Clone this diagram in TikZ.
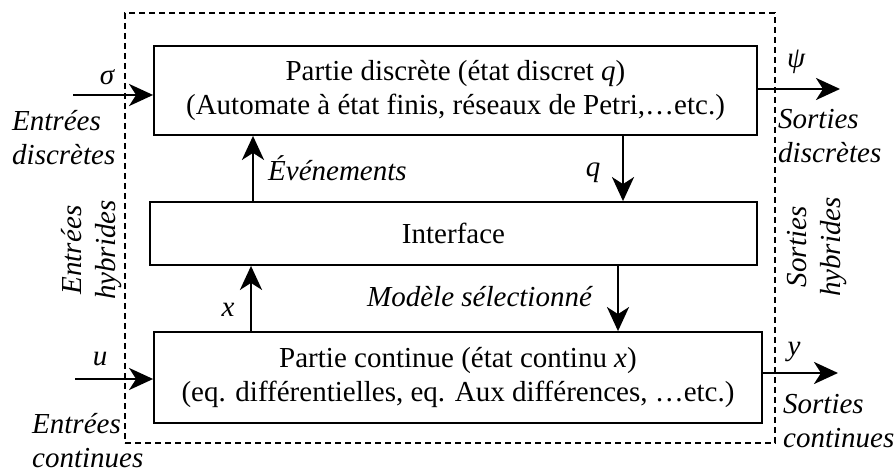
\documentclass[tikz,border=0pt]{standalone}
\usepackage{fontspec}
\setmainfont{Liberation Serif}
\usetikzlibrary{arrows.meta}
\begin{document}
\begin{tikzpicture}[x=1pt,y=-1pt,
  every node/.style={font=\fontsize{29}{34.5}\selectfont},
  box/.style={draw,line width=1.8pt,inner sep=0pt,align=center},
  arr/.style={line width=2.8pt,-{Stealth[length=24pt,width=22pt,inset=7pt]}},
  lbl/.style={inner sep=0pt,font=\fontsize{29}{34}\selectfont\itshape},
  frame/.style={draw,line width=1.3pt,dash pattern=on 6pt off 4pt,inner sep=0pt}
]
\useasboundingbox (0,0) rectangle (896,470);

% dashed frame
\node[frame, minimum width=650pt, minimum height=430pt] (fr) at (450,228) {};

% blocks
\node[box, minimum width=603pt, minimum height=89pt] (top) at (455.5,90.5)
  {Partie discrète (état discret \textit{q})\\(Automate à état finis, réseaux de Petri,…etc.)};
\node[box, minimum width=607pt, minimum height=63pt] (iface) at (453.5,233.5) {Interface};
\node[box, minimum width=608pt, minimum height=91pt] (bot) at (458,377.5)
  {Partie continue (état continu \textit{x})\\(eq. différentielles, eq. Aux différences, …etc.)};

% vertical connectors
\coordinate (cEv) at (253,0);
\coordinate (cQ) at (623,0);
\coordinate (cX) at (251,0);
\coordinate (cM) at (618,0);
\draw[arr] (iface.north -| cEv) -- (top.south -| cEv);
\draw[arr] (top.south -| cQ) -- (iface.north -| cQ);
\draw[arr] (bot.north -| cX) -- (iface.south -| cX);
\draw[arr] (iface.south -| cM) -- (bot.north -| cM);

% side connectors
\coordinate (sigS) at (73,95);
\coordinate (uS) at (75,379);
\coordinate (psiE) at (840,89);
\coordinate (yE) at (838,373);
\draw[arr] (sigS) -- (sigS -| top.west);
\draw[arr] (uS) -- (uS -| bot.west);
\draw[arr] (psiE -| top.east) -- (psiE);
\draw[arr] (yE -| bot.east) -- (yE);

% signal labels
\node[lbl, anchor=base] (lsig) at (107,85) {σ};
\node[lbl, anchor=base] (lu) at (100,365) {u};
\node[lbl, anchor=base] (lpsi) at (796,68) {ψ};
\node[lbl, anchor=base] (ly) at (794,355) {y};
\node[lbl, anchor=base west] (lev) at (268,181) {Événements};
\node[lbl, anchor=base] (lq) at (593,177) {q};
\node[lbl, anchor=base west] (lmod) at (367,306) {Modèle sélectionné};
\node[lbl, anchor=base] (lx) at (228,316) {x};

% side texts (base anchor = baseline of last line)
\node[lbl, align=left, anchor=base west] (ldin) at (12,165) {Entrées\\discrètes};
\node[lbl, align=left, anchor=base west] (ldout) at (778,163) {Sorties\\discrètes};
\node[lbl, align=left, anchor=base west] (lcin) at (32,467) {Entrées\\continues};
\node[lbl, align=left, anchor=base west] (lcout) at (783,447) {Sorties\\continues};
\node[lbl, rotate=90, align=center] (lhin) at (92,250) {Entrées\\hybrides};
\node[lbl, rotate=90, align=center] (lhout) at (817,247) {Sorties\\hybrides};
\end{tikzpicture}
\end{document}
